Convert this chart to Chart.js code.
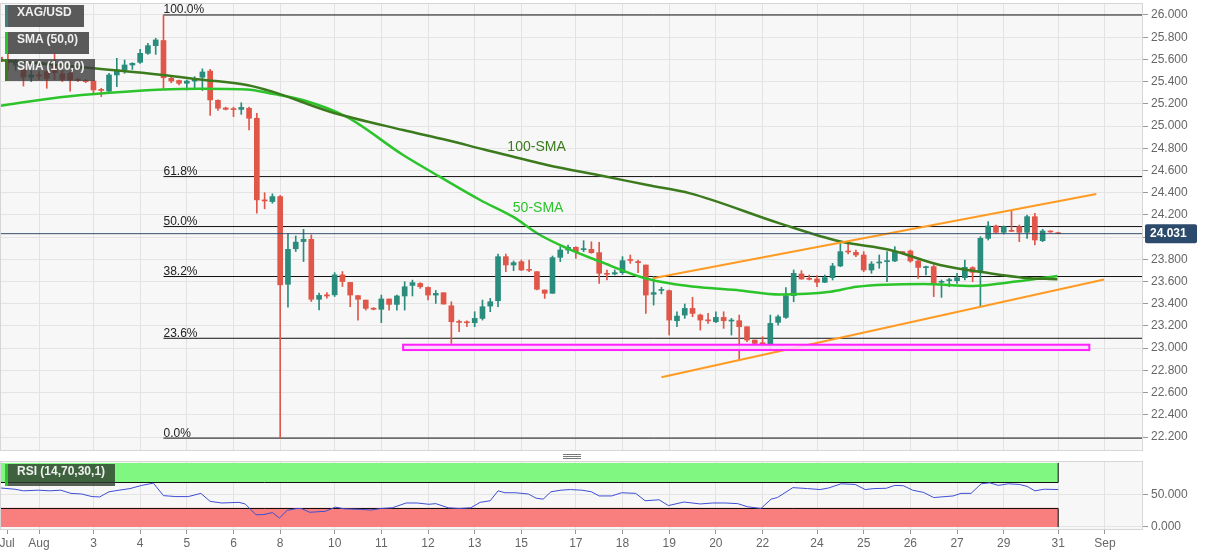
<!DOCTYPE html>
<html>
<head>
<meta charset="utf-8">
<script src="https://cdn.jsdelivr.net/npm/chart.js@4.4.0/dist/chart.umd.min.js"></script>
<style>
  body { margin: 0; background: #fff; width: 1207px; height: 555px; overflow: hidden; position: relative; font-family: "Liberation Sans", Arial, sans-serif; }
  #mainBox { position: absolute; left: 0; top: 0; width: 1207px; height: 452px; }
  #rsiBox { position: absolute; left: 0; top: 455px; width: 1207px; height: 100px; }
  .tag { position: absolute; left: 5px; height: 22px; line-height: 22px; padding-left: 9px; box-sizing: border-box;
         color: #f0f0f0; font: bold 12px "Liberation Sans", Arial, sans-serif; background: rgba(72, 72, 72, 0.9); border-left: 3px solid; }
  .grip { position: absolute; left: 563px; top: 454px; width: 18px; height: 5px;
          background: linear-gradient(#777 0 1px, transparent 1px 2px, #777 2px 3px, transparent 3px 4px, #777 4px 5px); }
</style>
</head>
<body>
<div id="mainBox"><canvas id="main"></canvas></div>
<div id="rsiBox"><canvas id="rsi"></canvas></div>
<div class="grip"></div>
<div class="tag" style="top:5px;width:79px;border-left-color:#3e8080;">XAG/USD</div>
<div class="tag" style="top:32px;width:84px;border-left-color:#2bc42b;">SMA (50,0)</div>
<div class="tag" style="top:59px;width:90px;border-left-color:#3c7a1e;background:rgba(60,60,60,0.8);">SMA (100,0)</div>
<div class="tag" style="top:464px;width:110px;border-left-color:#2bc42b;background:rgba(45,60,45,0.8);">RSI (14,70,30,1)</div>
<script>
// 4h candles, index 0 = first visible bar
const opens = [25.62, 25.59, 25.55, 25.51, 25.44, 25.46, 25.49, 25.55, 25.47, 25.475, 25.42, 25.41, 25.405, 25.33, 25.315, 25.46, 25.505, 25.55, 25.574, 25.655,
  25.724, 25.77, 25.43, 25.41, 25.385, 25.405, 25.44, 25.495, 25.232, 25.163, 25.155, 25.15, 25.16, 25.07, 24.335, 24.32, 24.365, 23.575, 23.895, 23.96,
  23.98, 23.44, 23.48, 23.48, 23.66, 23.592, 23.473, 23.433, 23.36, 23.35, 23.443, 23.394, 23.47, 23.565, 23.583, 23.547, 23.478, 23.499, 23.382, 23.238,
  23.235, 23.229, 23.268, 23.379, 23.427, 23.824, 23.749, 23.779, 23.707, 23.689, 23.524, 23.494, 23.818, 23.884, 23.908, 23.887, 23.89, 23.86, 23.67, 23.668,
  23.68, 23.797, 23.78, 23.749, 23.485, 23.52, 23.518, 23.247, 23.298, 23.358, 23.298, 23.252, 23.238, 23.277, 23.244, 23.247, 23.193, 23.073, 23.046, 23.037,
  23.232, 23.277, 23.473, 23.668, 23.626, 23.623, 23.593, 23.635, 23.74, 23.872, 23.863, 23.839, 23.704, 23.767, 23.779, 23.785, 23.866, 23.875, 23.785, 23.725,
  23.734, 23.593, 23.608, 23.608, 23.635, 23.725, 23.683, 23.989, 24.10, 24.043, 24.058, 24.094, 24.043, 24.184, 23.968, 24.052, 24.04];
const highs = [25.65, 25.655, 25.60, 25.52, 25.50, 25.49, 25.50, 25.65, 25.50, 25.49, 25.43, 25.42, 25.41, 25.34, 25.475, 25.61, 25.595, 25.57, 25.69, 25.745,
  25.79, 26.00, 25.44, 25.415, 25.415, 25.445, 25.515, 25.51, 25.235, 25.17, 25.17, 25.21, 25.17, 25.115, 24.40, 24.39, 24.375, 24.035, 24.01, 24.07,
  24.02, 23.495, 23.50, 23.68, 23.69, 23.592, 23.475, 23.433, 23.365, 23.478, 23.443, 23.478, 23.598, 23.613, 23.59, 23.553, 23.52, 23.499, 23.418, 23.253,
  23.247, 23.328, 23.433, 23.448, 23.848, 23.848, 23.785, 23.794, 23.794, 23.689, 23.524, 23.83, 23.914, 23.929, 23.914, 23.968, 23.958, 23.953, 23.704, 23.704,
  23.824, 23.839, 23.794, 23.749, 23.644, 23.548, 23.524, 23.328, 23.398, 23.458, 23.307, 23.314, 23.328, 23.328, 23.268, 23.298, 23.193, 23.073, 23.103, 23.298,
  23.298, 23.545, 23.704, 23.698, 23.659, 23.653, 23.659, 23.764, 23.959, 23.959, 23.884, 23.869, 23.779, 23.839, 23.869, 23.914, 23.869, 23.884, 23.794, 23.74,
  23.749, 23.614, 23.629, 23.674, 23.794, 23.734, 24.004, 24.139, 24.109, 24.10, 24.235, 24.109, 24.199, 24.214, 24.07, 24.058, 24.045];
const lows = [25.52, 25.505, 25.50, 25.36, 25.40, 25.42, 25.34, 25.42, 25.40, 25.315, 25.40, 25.39, 25.29, 25.265, 25.30, 25.355, 25.475, 25.51, 25.565, 25.645,
  25.645, 25.34, 25.39, 25.37, 25.325, 25.34, 25.32, 25.095, 25.14, 25.145, 25.085, 25.105, 24.965, 24.215, 24.255, 24.305, 22.19, 23.37, 23.87, 23.78,
  23.42, 23.345, 23.45, 23.465, 23.555, 23.373, 23.253, 23.343, 23.345, 23.23, 23.343, 23.343, 23.343, 23.47, 23.538, 23.434, 23.403, 23.397, 23.043, 23.148,
  23.193, 23.193, 23.253, 23.328, 23.373, 23.689, 23.698, 23.698, 23.689, 23.524, 23.448, 23.494, 23.779, 23.854, 23.809, 23.869, 23.854, 23.584, 23.614, 23.659,
  23.664, 23.764, 23.68, 23.313, 23.388, 23.488, 23.118, 23.193, 23.268, 23.283, 23.163, 23.223, 23.229, 23.178, 23.118, 22.893, 23.058, 23.037, 23.013, 22.998,
  23.208, 23.268, 23.418, 23.62, 23.614, 23.553, 23.59, 23.614, 23.734, 23.848, 23.824, 23.689, 23.674, 23.719, 23.599, 23.779, 23.848, 23.773, 23.629, 23.659,
  23.464, 23.457, 23.553, 23.583, 23.614, 23.599, 23.373, 23.974, 24.034, 24.028, 24.049, 23.959, 23.989, 23.929, 23.959, 24.043, 24.03];
const closes = [25.58, 25.57, 25.58, 25.44, 25.46, 25.45, 25.43, 25.48, 25.42, 25.415, 25.41, 25.40, 25.325, 25.32, 25.46, 25.505, 25.55, 25.565, 25.655, 25.724,
  25.775, 25.435, 25.405, 25.385, 25.405, 25.43, 25.487, 25.235, 25.16, 25.15, 25.148, 25.168, 25.07, 24.335, 24.325, 24.365, 23.57, 23.89, 23.955, 23.98,
  23.44, 23.475, 23.47, 23.66, 23.60, 23.478, 23.44, 23.358, 23.35, 23.443, 23.394, 23.47, 23.553, 23.59, 23.553, 23.478, 23.493, 23.397, 23.238, 23.232,
  23.229, 23.268, 23.373, 23.418, 23.824, 23.749, 23.77, 23.704, 23.701, 23.53, 23.494, 23.815, 23.884, 23.908, 23.869, 23.893, 23.86, 23.674, 23.665, 23.68,
  23.788, 23.79, 23.77, 23.478, 23.50, 23.524, 23.253, 23.289, 23.358, 23.313, 23.253, 23.246, 23.277, 23.247, 23.25, 23.193, 23.073, 23.043, 23.04, 23.223,
  23.283, 23.473, 23.674, 23.623, 23.62, 23.593, 23.635, 23.74, 23.869, 23.866, 23.839, 23.704, 23.758, 23.773, 23.785, 23.869, 23.86, 23.785, 23.727, 23.73,
  23.59, 23.60, 23.614, 23.635, 23.728, 23.683, 23.989, 24.10, 24.043, 24.094, 24.052, 24.043, 24.184, 23.974, 24.055, 24.046, 24.031];

// moving averages (bar index, value)
const sma50X = [0, 7.7, 14.1, 20.9, 25.7, 31.7, 35, 38.9, 44.6, 51.8, 56.5, 61.7, 65.9, 69.4, 72.9, 77.1, 82.9, 86.5, 90, 95.1, 100.2, 106.7, 110.1, 118.6, 125.1, 129.4, 135.9];
const sma50Y = [25.183, 25.259, 25.30, 25.33, 25.336, 25.33, 25.29, 25.234, 25.08, 24.739, 24.544, 24.334, 24.184, 24.019, 23.899, 23.78, 23.629, 23.578, 23.548, 23.52, 23.484, 23.508, 23.553, 23.578, 23.56, 23.59, 23.65];
const sma100X = [0, 20.9, 25.7, 31.7, 35, 42.4, 51.8, 57.4, 62.1, 70.3, 77.5, 83.2, 88.7, 100.2, 108, 114.4, 120.8, 127.2, 131.5, 135.9];
const sma100Y = [25.595, 25.46, 25.42, 25.37, 25.31, 25.129, 24.964, 24.874, 24.791, 24.649, 24.55, 24.469, 24.394, 24.124, 23.96, 23.884, 23.749, 23.674, 23.635, 23.62];

// RSI (14)
const rsiX = [0, 1.9, 3.0, 4.9, 6.4, 7.8, 9.1, 10.5, 11.8, 12.8, 14, 15.3, 16.7, 18.2, 19.7, 21, 22.6, 24.2, 25.8, 27,
  28.5, 30.7, 31.5, 32.9, 33.9, 35, 35.9, 36.9, 38.2, 38.8, 39.8, 41.8, 43.1, 44.2, 46.3, 47.7, 49, 50.4, 52.2, 53.6,
  55.1, 56, 57.6, 59, 60.5, 61.7, 63, 64, 64.9, 66.2, 67.9, 68.9, 69.8, 70.8, 72.1, 73.3, 74.8, 76, 77, 78.6,
  79.9, 81.7, 82.9, 84.7, 85.9, 87.9, 90, 91.6, 93.2, 94.8, 96.1, 97.8, 99.1, 99.9, 101.9, 103.8, 105.4, 106.5, 108.1, 109.9,
  111.2, 112.3, 113.9, 115, 116.1, 117.3, 118.7, 120, 122.5, 123.5, 124.8, 126.1, 127.2, 128.3, 129.6, 131, 132, 133, 134.2, 136];
const rsiY = [61, 59, 56.5, 57.5, 56.5, 57.5, 52.5, 51.5, 47.5, 47, 55, 57.5, 60, 65, 68.5, 49, 47.5, 47.5, 52.5, 40,
  37.5, 38.5, 36, 19, 19.5, 22.5, 14, 26, 29, 28.5, 23, 24.5, 31, 28.5, 27.5, 26.5, 29, 30, 37.5, 37.5,
  35.5, 36.5, 30, 29, 30, 38.5, 41, 56.5, 53.5, 53.5, 51.5, 45, 43.5, 55, 57.5, 58.5, 57.5, 55, 48.5, 48.5,
  53.5, 52.5, 41, 42.5, 33.5, 39, 36, 37.5, 37.5, 36.5, 31.5, 29, 43.5, 46, 61.5, 60, 58.5, 61, 67.5, 66.5,
  58.5, 60, 60.5, 65, 64.5, 57.5, 54, 46, 48.5, 52.5, 52.5, 67.5, 69, 65, 67.5, 66.5, 63.5, 56.5, 59, 58.5];

// Fibonacci retracement of the 26.00 -> 22.19 swing
const fibLevels = [26.0, 24.545, 24.095, 23.645, 23.089, 22.19];
const fibLabels = ["100.0%", "61.8%", "50.0%", "38.2%", "23.6%", "0.0%"];
const fibFrom = 21;

// rising channel and support zone
const upperX = [83.9, 140.9];
const upperY = [23.629, 24.389];
const lowerX = [85.0, 141.9];
const lowerY = [22.738, 23.618];
const zoneX = [51.8, 140.0];
const zoneY = [22.983, 23.031];

const priceTicks = [22.2, 22.4, 22.6, 22.8, 23.0, 23.2, 23.4, 23.6, 23.8, 24.0, 24.2, 24.4, 24.6, 24.8, 25.0, 25.2, 25.4, 25.6, 25.8, 26.0];
const rsiTicks = [0, 50];
const dayTicks = [0.9, 5, 12, 18, 24, 30, 36, 43, 49, 55, 61, 67, 74, 80, 86, 92, 98, 105, 111, 117, 123, 129, 136, 142];
const dayLabels = ["Jul", "Aug", "3", "4", "5", "6", "8", "10", "11", "12", "13", "15", "17", "18", "19", "20", "22", "24", "25", "26", "27", "29", "31", "Sep"];

const X_MIN = -0.013;
const X_MAX = 146.9;
const FONT = '"Liberation Sans", Arial, sans-serif';
const BULL = "#2a8c7c";
const BEAR = "#e0574a";
const SMA50_COLOR = "#2bc42b";
const SMA100_COLOR = "#3c7a1e";

const bars = opens.map((_, i) => i);
const candleColors = bars.map((i) => (closes[i] >= opens[i] ? BULL : BEAR));
const lastClose = closes[closes.length - 1];
const toPoints = (xs, ys) => xs.map((x, k) => ({ x, y: ys[k] }));

const dayGrid = (ctx) => (ctx.index === 0 ? "rgba(0,0,0,0)" : "#e2e2e2");

// panel backgrounds, fib labels, zone box and price tag
const mainDecor = {
  id: "mainDecor",
  beforeDraw(chart) {
    const { ctx, chartArea: a } = chart;
    ctx.save();
    ctx.fillStyle = "#f7f7f7";
    ctx.fillRect(a.left, a.top, a.width, a.height);
    ctx.restore();
  },
  afterDatasetsDraw(chart) {
    const { ctx, chartArea: a, scales } = chart;
    const x = scales.x;
    const y = scales.y;
    ctx.save();

    // support zone
    const zx0 = x.getPixelForValue(zoneX[0]);
    const zx1 = x.getPixelForValue(zoneX[1]);
    const zy0 = y.getPixelForValue(zoneY[1]);
    const zy1 = y.getPixelForValue(zoneY[0]);
    ctx.fillStyle = "rgba(255, 214, 255, 0.9)";
    ctx.fillRect(zx0, zy0, zx1 - zx0, zy1 - zy0);
    ctx.strokeStyle = "#ff1fff";
    ctx.lineWidth = 2;
    ctx.strokeRect(zx0, zy0, zx1 - zx0, zy1 - zy0);

    // fib labels
    ctx.fillStyle = "#222";
    ctx.font = "12px " + FONT;
    ctx.textBaseline = "alphabetic";
    ctx.textAlign = "left";
    fibLevels.forEach((v, k) => {
      ctx.fillText(fibLabels[k], x.getPixelForValue(fibFrom), y.getPixelForValue(v) - 1.5);
    });

    // moving average captions
    ctx.font = "14px " + FONT;
    ctx.textBaseline = "middle";
    ctx.fillStyle = SMA100_COLOR;
    ctx.fillText("100-SMA", x.getPixelForValue(65.2), y.getPixelForValue(24.81));
    ctx.fillStyle = SMA50_COLOR;
    ctx.fillText("50-SMA", x.getPixelForValue(65.9), y.getPixelForValue(24.26));

    ctx.strokeStyle = "#d6d6d6";
    ctx.lineWidth = 1;
    ctx.strokeRect(a.left + 0.5, a.top + 0.5, a.width - 1, a.height - 1);
    ctx.restore();
  },
  afterDraw(chart) {
    const { ctx, chartArea: a, scales } = chart;
    const py = scales.y.getPixelForValue(lastClose);
    ctx.save();
    ctx.fillStyle = "#2c4a6c";
    ctx.beginPath();
    ctx.roundRect(a.right + 2, py - 9.5, 52, 19, 2);
    ctx.fill();
    ctx.fillStyle = "#fff";
    ctx.font = "bold 12px " + FONT;
    ctx.textBaseline = "middle";
    ctx.textAlign = "left";
    ctx.fillText(lastClose.toFixed(3), a.right + 7, py + 0.5);
    ctx.restore();
  },
};

const rsiDecor = {
  id: "rsiDecor",
  beforeDraw(chart) {
    const { ctx, chartArea: a } = chart;
    ctx.save();
    ctx.fillStyle = "#f7f7f7";
    ctx.fillRect(a.left, a.top, a.width, a.height);
    ctx.restore();
  },
  beforeDatasetsDraw(chart) {
    const { ctx, chartArea: a, scales } = chart;
    const x = scales.x;
    const y = scales.y;
    const right = x.getPixelForValue(bars.length - 1);
    const y100 = y.getPixelForValue(100);
    const y70 = y.getPixelForValue(70);
    const y30 = y.getPixelForValue(30);
    const y0 = y.getPixelForValue(0);
    ctx.save();
    ctx.fillStyle = "#80f780";
    ctx.fillRect(a.left, y100, right - a.left, y70 - y100);
    ctx.fillStyle = "#f97f7f";
    ctx.fillRect(a.left, y30, right - a.left, y0 - y30);
    ctx.strokeStyle = "#111";
    ctx.lineWidth = 1;
    ctx.beginPath();
    ctx.moveTo(a.left, Math.round(y70) + 0.5);
    ctx.lineTo(right, Math.round(y70) + 0.5);
    ctx.lineTo(right, y100);
    ctx.moveTo(a.left, Math.round(y30) + 0.5);
    ctx.lineTo(right, Math.round(y30) + 0.5);
    ctx.lineTo(right, y0);
    ctx.moveTo(a.left + 0.5, y100);
    ctx.lineTo(a.left + 0.5, y70);
    ctx.moveTo(a.left + 0.5, y30);
    ctx.lineTo(a.left + 0.5, y0);
    ctx.stroke();
    ctx.restore();
  },
  afterDraw(chart) {
    const { ctx, chartArea: a } = chart;
    ctx.save();
    ctx.strokeStyle = "#d6d6d6";
    ctx.strokeRect(a.left + 0.5, a.top + 0.5, a.width - 1, a.height - 1);
    ctx.restore();
  },
};

const lineSet = (data, color, width, order, extra = {}) => ({
  type: "line",
  data,
  borderColor: color,
  borderWidth: width,
  pointRadius: 0,
  order,
  ...extra,
});

new Chart(document.getElementById("main"), {
  type: "bar",
  data: {
    datasets: [
      lineSet([{ x: X_MIN, y: lastClose }, { x: X_MAX, y: lastClose }], "#34506f", 1, 0),
      lineSet(toPoints(upperX, upperY), "#ff9a22", 2, 0),
      lineSet(toPoints(lowerX, lowerY), "#ff9a22", 2, 0),
      lineSet(toPoints(sma100X, sma100Y), SMA100_COLOR, 2.5, 1, { cubicInterpolationMode: "monotone" }),
      lineSet(toPoints(sma50X, sma50Y), SMA50_COLOR, 2.5, 1, { cubicInterpolationMode: "monotone" }),
      {
        type: "bar",
        data: bars.map((i) => ({ x: i, y: [opens[i], closes[i]] })),
        backgroundColor: candleColors,
        barThickness: 5,
        minBarLength: 1,
        grouped: false,
        order: 2,
      },
      {
        type: "bar",
        data: bars.map((i) => ({ x: i, y: [lows[i], highs[i]] })),
        backgroundColor: candleColors,
        barThickness: 1,
        grouped: false,
        order: 3,
      },
      ...fibLevels.map((v) => lineSet([{ x: fibFrom, y: v }, { x: X_MAX, y: v }], "#111", 1, 4)),
    ],
  },
  options: {
    responsive: true,
    maintainAspectRatio: false,
    animation: false,
    layout: { padding: { top: 3, bottom: 1, left: 0, right: 0 } },
    plugins: { legend: { display: false }, tooltip: { enabled: false } },
    scales: {
      x: {
        type: "linear",
        min: X_MIN,
        max: X_MAX,
        offset: false,
        grid: { color: dayGrid, drawTicks: false, offset: false },
        border: { display: false },
        ticks: { display: false },
        afterBuildTicks: (s) => {
          s.ticks = dayTicks.map((v) => ({ value: v }));
        },
        afterFit: (s) => {
          s.height = 0;
          s.paddingLeft = 0;
          s.paddingRight = 0;
        },
      },
      y: {
        position: "right",
        min: 22.074,
        max: 26.108,
        grid: { color: "#e4e4e4", tickLength: 5, tickColor: "#999" },
        border: { display: false },
        ticks: { color: "#666", font: { size: 12, family: FONT }, padding: 3, callback: (v) => Number(v).toFixed(3) },
        afterBuildTicks: (s) => {
          s.ticks = priceTicks.map((v) => ({ value: v }));
        },
        afterFit: (s) => {
          s.width = 64;
          s.paddingTop = 0;
          s.paddingBottom = 0;
        },
      },
    },
  },
  plugins: [mainDecor],
});

new Chart(document.getElementById("rsi"), {
  type: "line",
  data: {
    datasets: [lineSet(toPoints(rsiX, rsiY), "#3f4fd4", 1, 0)],
  },
  options: {
    responsive: true,
    maintainAspectRatio: false,
    animation: false,
    layout: { padding: { top: 6, bottom: 0, left: 0, right: 0 } },
    plugins: { legend: { display: false }, tooltip: { enabled: false } },
    scales: {
      x: {
        type: "linear",
        min: X_MIN,
        max: X_MAX,
        grid: { color: dayGrid, tickLength: 4, tickColor: "#999" },
        border: { display: false },
        ticks: {
          color: "#666",
          font: { size: 12, family: FONT },
          padding: 2,
          maxRotation: 0,
          autoSkip: false,
          callback: (v, i) => dayLabels[i],
        },
        afterBuildTicks: (s) => {
          s.ticks = dayTicks.map((v) => ({ value: v }));
        },
        afterFit: (s) => {
          s.height = 25;
          s.paddingLeft = 0;
          s.paddingRight = 0;
        },
      },
      y: {
        position: "right",
        min: -4.7,
        max: 103.1,
        grid: { color: "#e4e4e4", tickLength: 5, tickColor: "#999" },
        border: { display: false },
        ticks: { color: "#666", font: { size: 12, family: FONT }, padding: 3, callback: (v) => Number(v).toFixed(3) },
        afterBuildTicks: (s) => {
          s.ticks = rsiTicks.map((v) => ({ value: v }));
        },
        afterFit: (s) => {
          s.width = 64;
          s.paddingTop = 0;
          s.paddingBottom = 0;
        },
      },
    },
  },
  plugins: [rsiDecor],
});
</script>
</body>
</html>
